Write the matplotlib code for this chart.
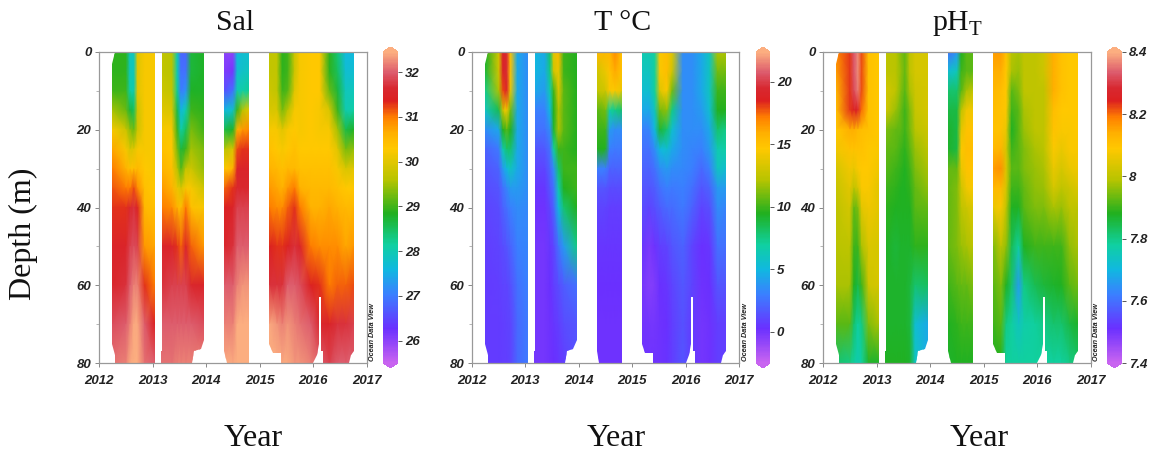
import numpy as np
import matplotlib
matplotlib.use('Agg')
import matplotlib.pyplot as plt
from matplotlib.colors import LinearSegmentedColormap, Normalize
from matplotlib.path import Path

W, H = 1149, 454
plt.rcParams['font.family'] = ['Liberation Sans', 'DejaVu Sans']
plt.rcParams['mathtext.fontset'] = 'custom'
plt.rcParams['mathtext.rm'] = 'Liberation Serif'

# depth levels and cast times for each block of data
depth = [0, 5, 10, 15, 20, 25, 30, 35, 40, 50, 60, 70, 80]
times1 = [2012.25, 2012.50, 2012.58, 2012.65, 2012.72, 2012.85, 2013.04]
times2 = [2013.16, 2013.36, 2013.46, 2013.53, 2013.62, 2013.72, 2013.96]
times3 = [2014.34, 2014.50, 2014.58, 2014.68, 2014.80]
times4 = [2015.18, 2015.32, 2015.42, 2015.52, 2015.65, 2015.75, 2015.95, 2016.12, 2016.30, 2016.45, 2016.60, 2016.75]
all_times = [times1, times2, times3, times4]

# salinity, one row per cast
sal1 = [[28.9, 28.9, 29, 29.5, 30.2, 30.7, 31, 31.15, 31.3, 31.5, 31.6, 31.9, 32.1],
        [28.9, 28.9, 29, 29.2, 29.8, 30.2, 30.6, 31, 31.3, 31.5, 31.7, 32, 32.2],
        [27.9, 27.9, 28.1, 28.7, 29.4, 29.9, 30.4, 31, 31.6, 31.8, 32, 32.2, 32.4],
        [27.9, 27.9, 28, 28.5, 29.2, 30, 30.4, 31.2, 31.7, 31.9, 32.2, 32.4, 32.6],
        [30, 30, 30, 29.8, 29.8, 30.2, 30.5, 30.9, 31.4, 31.8, 32.2, 32.4, 32.6],
        [30.2, 30.2, 30.2, 30.2, 30.2, 30.2, 30.3, 30.4, 30.5, 30.8, 31.3, 32, 32.1],
        [30.2, 30.2, 30.2, 30.2, 30.2, 30.2, 30.2, 30.3, 30.4, 30.7, 31, 31.4, 32]]
sal2 = [[29.7, 29.7, 29.8, 30, 30.2, 30.4, 30.6, 30.8, 31, 31.5, 31.7, 32, 32.1],
        [29.6, 29.6, 29.7, 29.9, 30.2, 30.3, 30.4, 30.6, 30.9, 31.5, 31.8, 32, 32.1],
        [28, 28, 28.2, 28.6, 29, 29.3, 29.6, 30.1, 30.6, 31.3, 31.8, 32, 32.2],
        [26.8, 26.9, 27, 27.6, 28.1, 28.7, 29.1, 29.9, 30.4, 31.1, 31.8, 32, 32.2],
        [26.8, 26.9, 27.2, 28, 28.5, 29, 29.7, 30.2, 31, 31.5, 31.8, 32, 32.2],
        [28.7, 28.7, 28.8, 29, 29.3, 29.5, 29.8, 30.2, 30.4, 31.1, 31.6, 32, 32.2],
        [28.8, 28.8, 28.8, 28.9, 29, 29.3, 29.4, 29.8, 30.2, 30.8, 31.5, 31.9, 32.2]]
sal3 = [[26, 26.1, 26.6, 27.6, 28.6, 29.6, 30.3, 31.1, 31.4, 31.6, 32, 32.2, 32.4],
        [26, 26.2, 26.9, 27.8, 28.8, 29.9, 30.6, 31.3, 31.5, 31.7, 32, 32.2, 32.4],
        [27.6, 27.7, 28, 29, 30.6, 31.2, 31.5, 31.6, 31.8, 32, 32.2, 32.5, 32.6],
        [27.7, 27.8, 28.1, 29.6, 30.8, 31.3, 31.5, 31.6, 31.8, 32, 32.3, 32.6, 32.6],
        [27.7, 27.9, 28.2, 30, 30.9, 31.3, 31.5, 31.6, 31.8, 32, 32.3, 32.6, 32.6]]
sal4 = [[29.7, 29.7, 29.8, 29.9, 30.2, 30.4, 30.6, 30.8, 31, 31.4, 31.7, 32.4, 32.6],
        [29.7, 29.7, 29.7, 29.9, 30.2, 30.3, 30.5, 30.7, 30.9, 31.3, 31.7, 32.3, 32.6],
        [28.9, 28.9, 29, 29.3, 30, 30.2, 30.4, 30.6, 30.9, 31.3, 31.7, 32.2, 32.4],
        [29, 29, 29.1, 29.6, 30.2, 30.3, 30.5, 30.8, 31.1, 31.4, 32, 32.3, 32.4],
        [29.8, 29.8, 30, 30.2, 30.3, 30.4, 30.5, 31, 31.3, 31.7, 32, 32.2, 32.3],
        [30.2, 30.2, 30.2, 30.2, 30.2, 30.3, 30.4, 30.6, 31, 31.5, 31.9, 32.1, 32.3],
        [30.3, 30.3, 30.3, 30.3, 30.3, 30.3, 30.4, 30.5, 30.6, 31, 31.4, 32, 32.2],
        [30.3, 30.3, 30.3, 30.2, 30.2, 30.3, 30.4, 30.5, 30.6, 30.9, 31.3, 31.6, 32],
        [28.9, 28.9, 29.2, 29.9, 30.2, 30.3, 30.4, 30.5, 30.7, 30.9, 31, 31.5, 31.8],
        [28.4, 28.5, 28.7, 29, 29.5, 30, 30.2, 30.4, 30.6, 30.9, 31.1, 31.7, 32],
        [27.6, 27.7, 27.9, 28, 28.6, 29.3, 29.9, 30.3, 30.5, 30.7, 31.1, 31.7, 32],
        [27.6, 27.7, 27.9, 28.1, 28.8, 29.4, 30, 30.3, 30.5, 30.8, 31.2, 31.8, 32]]

# temperature
temp1 = [[9.5, 9, 7.5, 6, 3.5, 2, 1.5, 1.2, 1, 0.8, 0.7, 0.7, 0.7],
         [13, 13, 12, 8.5, 4.5, 2.8, 2, 1.5, 1.2, 1, 0.8, 0.7, 0.7],
         [19, 19, 18, 13, 9.5, 6.5, 4, 2.5, 2, 1.2, 1, 0.8, 0.8],
         [19.5, 19.5, 19, 14.5, 10.5, 8, 5, 3.2, 2.5, 1.5, 1, 0.9, 0.8],
         [15, 15, 14, 11, 9.5, 8, 6, 4, 3, 2, 1.3, 1, 1],
         [4.5, 4.5, 4.5, 4.5, 4.5, 4.5, 4.5, 4, 3.5, 3, 2.5, 2.2, 2.2],
         [3.5, 3.5, 3.5, 3.5, 3.5, 3.5, 3.5, 3.5, 3.3, 3.2, 3, 2.8, 2.8]]
temp2 = [[5, 5, 4.5, 3, 2.5, 1.5, 1, 0.5, 0.2, 0, 0, 0, 0],
         [4.5, 4.5, 4, 3, 2.5, 1.6, 1, 0.5, 0.2, 0, 0, 0, 0],
         [8, 7.5, 6.5, 5, 3.5, 2.5, 2, 1.5, 1, 0.5, 0.3, 0.2, 0.2],
         [13.5, 13, 10, 9.5, 9, 7, 3.5, 2.5, 2, 1, 0.8, 0.5, 0.3],
         [15.5, 14, 13.5, 12, 12, 10, 8, 6.5, 5, 2.5, 1.2, 0.8, 0.5],
         [10, 10, 10.5, 10.5, 10.5, 10, 10, 9.5, 8, 4, 1.8, 1.2, 0.8],
         [9.5, 9.5, 9.5, 9.5, 9.5, 9.5, 10, 10, 9.5, 7.5, 2.5, 1.5, 1.5]]
temp3 = [[15.5, 13, 12.5, 10.5, 10, 9.5, 3, 1.5, 1, 0.5, 0.3, 0.2, 0.2],
         [15.5, 14, 13, 11, 10, 9.5, 3, 1.5, 1, 0.5, 0.3, 0.2, 0.2],
         [15.5, 15, 14.5, 7, 4, 3, 2, 1.2, 0.8, 0.5, 0.3, 0.2, 0.2],
         [16.8, 16, 14.5, 7.5, 3.5, 2.8, 2, 1.2, 0.8, 0.5, 0.3, 0.2, 0.2],
         [15, 15, 14, 8, 3.5, 2.8, 2, 1.2, 0.8, 0.5, 0.3, 0.2, 0.2]]
temp4 = [[6.5, 6, 5.5, 4.5, 3, 2.5, 2, 1.5, 1.2, 0.5, 0, 0.1, 0.2],
         [6.5, 6, 5.5, 4.5, 3.2, 2.5, 2, 1.5, 1, -0.2, -0.5, 0, 0.2],
         [7, 7, 7, 6, 5, 3.5, 2.5, 1.8, 1.3, 0.2, -0.3, 0, 0.2],
         [14.5, 14.5, 13.5, 11, 9, 5, 3.5, 2.5, 1.8, 0.8, 0.3, 0.2, 0.2],
         [15.2, 15.2, 14.5, 11.5, 8, 5.5, 4, 3, 2.3, 1, 0.5, 0.3, 0.4],
         [13.5, 13, 11, 7.5, 5.5, 4.5, 3.5, 2.8, 2.3, 1.5, 1, 0.8, 0.8],
         [3.5, 3.5, 3.5, 3.5, 3.5, 3.5, 3.3, 3, 2.8, 2, 1.6, 1.4, 1.5],
         [3.5, 3.5, 3.5, 3.5, 3.5, 3.2, 3, 2.5, 2, 1, 1, 0.7, 0.7],
         [4.5, 4.5, 4.5, 4, 3.5, 3, 2.2, 1.5, 1, 0.3, 0.2, 0, 0],
         [6, 6, 6, 5.5, 4.5, 4, 3, 2, 1.3, 0.5, 0.3, 0.2, 0.2],
         [12, 11, 10, 9.5, 8, 6.5, 6, 4, 3.5, 2.5, 1.5, 0.8, 0.8],
         [12, 11, 10, 9.5, 7.5, 6.8, 5.5, 4, 3.2, 2.5, 1.5, 0.8, 0.8]]

# pH
ph1 = [[8.18, 8.16, 8.13, 8.11, 8.09, 8.07, 8.03, 8.01, 8, 7.99, 7.98, 7.92, 7.82],
       [8.23, 8.23, 8.23, 8.23, 8.14, 8.1, 8.07, 8.05, 8.03, 8, 7.98, 7.92, 7.8],
       [8.33, 8.33, 8.32, 8.25, 8.14, 8.1, 8.06, 8, 7.93, 7.9, 7.88, 7.82, 7.78],
       [8.37, 8.37, 8.36, 8.26, 8.12, 8.1, 8.08, 8.03, 7.95, 7.9, 7.85, 7.78, 7.76],
       [8.22, 8.22, 8.22, 8.2, 8.11, 8.1, 8.09, 8.08, 8.05, 7.98, 7.9, 7.8, 7.78],
       [8.1, 8.1, 8.1, 8.1, 8.1, 8.09, 8.09, 8.08, 8.07, 8.04, 8.02, 7.95, 7.87],
       [8.09, 8.09, 8.09, 8.09, 8.09, 8.08, 8.07, 8.05, 8.05, 8.03, 8.03, 7.98, 7.87]]
ph2 = [[8, 8, 8.03, 8.03, 7.95, 7.93, 7.92, 7.9, 7.89, 7.88, 7.87, 7.87, 7.88],
       [7.99, 7.99, 8, 7.97, 7.93, 7.92, 7.9, 7.89, 7.88, 7.86, 7.87, 7.87, 7.88],
       [7.95, 7.96, 7.95, 7.93, 7.92, 7.9, 7.89, 7.88, 7.88, 7.87, 7.87, 7.87, 7.88],
       [7.93, 7.93, 7.92, 7.9, 7.9, 7.89, 7.88, 7.88, 7.88, 7.87, 7.87, 7.87, 7.88],
       [8, 8, 7.98, 7.95, 7.94, 7.92, 7.9, 7.89, 7.88, 7.87, 7.86, 7.86, 7.87],
       [8.03, 8.03, 8.02, 8.01, 7.99, 7.97, 7.95, 7.93, 7.92, 7.89, 7.82, 7.72, 7.74],
       [8.03, 8.03, 8.03, 8.03, 8.02, 8, 7.98, 7.96, 7.93, 7.89, 7.83, 7.68, 7.68]]
ph3 = [[7.6, 7.72, 7.82, 7.85, 7.87, 7.87, 7.93, 7.93, 7.93, 7.93, 7.9, 7.88, 7.87],
       [7.65, 7.75, 7.82, 7.85, 7.85, 7.85, 7.93, 7.95, 7.95, 7.95, 7.92, 7.89, 7.88],
       [7.88, 7.9, 7.92, 8, 8.05, 8.08, 8.06, 8.02, 8, 7.97, 7.93, 7.9, 7.88],
       [7.92, 7.92, 7.98, 8.07, 8.1, 8.11, 8.1, 8.07, 8.02, 7.98, 7.93, 7.9, 7.88],
       [7.92, 7.92, 8, 8.07, 8.1, 8.11, 8.1, 8.08, 8.04, 8, 7.95, 7.9, 7.88]]
ph4 = [[8.16, 8.14, 8.12, 8.11, 8.1, 8.12, 8.16, 8.12, 8.06, 7.95, 7.92, 7.9, 7.88],
       [8.16, 8.14, 8.11, 8.1, 8.1, 8.13, 8.17, 8.12, 8.08, 8, 7.95, 7.92, 7.88],
       [8.1, 8.09, 8.09, 8.08, 8.06, 8.03, 8.04, 8.03, 8, 7.96, 7.88, 7.8, 7.78],
       [7.99, 7.98, 7.92, 7.9, 7.88, 7.9, 7.92, 7.9, 7.88, 7.84, 7.82, 7.78, 7.78],
       [7.98, 7.97, 7.95, 7.92, 7.92, 7.92, 7.92, 7.9, 7.88, 7.78, 7.66, 7.74, 7.78],
       [8, 8, 8, 7.98, 7.97, 7.95, 7.95, 7.93, 7.92, 7.88, 7.8, 7.77, 7.78],
       [8, 8, 8, 8, 8, 7.98, 7.97, 7.96, 7.95, 7.9, 7.84, 7.78, 7.78],
       [8.02, 8.02, 8, 8, 8, 7.99, 7.98, 7.97, 7.95, 7.9, 7.86, 7.8, 7.78],
       [8.14, 8.14, 8.14, 8.11, 8.1, 8.08, 8.06, 8.03, 7.98, 7.9, 7.87, 7.82, 7.78],
       [8.1, 8.1, 8.1, 8.09, 8.08, 8.06, 8.03, 8, 7.97, 7.9, 7.88, 7.82, 7.78],
       [8.09, 8.09, 8.09, 8.09, 8.08, 8.08, 8.06, 8.02, 8, 7.96, 7.92, 7.85, 7.8],
       [8.09, 8.09, 8.09, 8.09, 8.09, 8.08, 8.07, 8.04, 8, 7.98, 7.94, 7.87, 7.82]]

sal_blocks = [sal1, sal2, sal3, sal4]
temp_blocks = [temp1, temp2, temp3, temp4]
ph_blocks = [ph1, ph2, ph3, ph4]

# sampled outline of each block (year, depth), same in all three panels
outline1 = [(2012.30, 0), (2012.25, 3), (2012.25, 75), (2012.30, 78), (2012.30, 80), (2013.04, 80), (2013.04, 0)]
outline2 = [(2013.18, 0), (2013.18, 77), (2013.16, 77), (2013.16, 80), (2013.74, 80), (2013.77, 77),
            (2013.90, 76.5), (2013.96, 74), (2013.96, 0)]
outline3 = [(2014.34, 0), (2014.34, 77), (2014.38, 80), (2014.80, 80), (2014.80, 0)]
outline4 = [(2015.18, 0), (2015.18, 75), (2015.24, 77.5), (2015.39, 77.5), (2015.39, 80), (2016.0, 80),
            (2016.06, 78), (2016.10, 75), (2016.10, 63), (2016.14, 63), (2016.14, 77), (2016.17, 77),
            (2016.17, 80), (2016.67, 80), (2016.70, 78), (2016.75, 77), (2016.75, 0)]
outlines = [outline1, outline2, outline3, outline4]

year_ticks = [2012, 2013, 2014, 2015, 2016, 2017]
depth_ticks = [0, 20, 40, 60, 80]
depth_minor = [10, 30, 50, 70]

# ODV style colours, bottom to top
odv = LinearSegmentedColormap.from_list('odv', [
    (0.00, '#c864f0'), (0.11, '#6a30ff'), (0.22, '#3a80ff'), (0.30, '#10b8e0'),
    (0.38, '#10d0a0'), (0.48, '#20b020'), (0.59, '#b8c400'), (0.69, '#ffc800'),
    (0.74, '#ffb000'), (0.79, '#ff8000'), (0.845, '#dc2020'), (0.885, '#d82830'),
    (0.935, '#dc5a6c'), (1.00, '#fcae80')])
odv.set_under('#c864f0')
odv.set_over('#fcae80')


def px_axes(x0, x1, y0, y1):
    return fig.add_axes([x0 / W, 1 - y1 / H, (x1 - x0) / W, (y1 - y0) / H])


def panel(x0, x1, cx0, cx1, blocks, vmin, vmax, cticks, clabels):
    ax = px_axes(x0, x1, 52, 363)
    norm = Normalize(vmin, vmax)
    for times, block, outline in zip(all_times, blocks, outlines):
        mesh = ax.pcolormesh(times, depth, np.array(block).T, cmap=odv, norm=norm, shading='gouraud')
        mesh.set_clip_path(Path(outline + [outline[0]]), ax.transData)
    ax.set_xlim(2012, 2017)
    ax.set_ylim(80, 0)
    ax.set_xticks(year_ticks)
    ax.set_yticks(depth_ticks)
    ax.set_yticks(depth_minor, minor=True)
    ax.tick_params(axis='x', which='major', length=3, width=0.7, color='#888888', pad=6)
    ax.tick_params(axis='y', which='major', length=3, width=0.7, color='#888888', pad=2.5)
    ax.tick_params(axis='y', which='minor', length=2, width=0.6, color='#aaaaaa')
    for lab in ax.get_xticklabels() + ax.get_yticklabels():
        lab.set_fontsize(9.5)
        lab.set_fontweight('bold')
        lab.set_fontstyle('italic')
        lab.set_color('#222222')
    for sp in ax.spines.values():
        sp.set_color('#999999')
        sp.set_linewidth(0.9)

    # the extension caps take their room out of this axes
    cax = px_axes(cx0, cx1, 47, 368)
    cb = fig.colorbar(plt.cm.ScalarMappable(norm=norm, cmap=odv), cax=cax, extend='both',
                      extendfrac=0.016, ticks=cticks)
    cb.outline.set_visible(False)
    cb.ax.set_yticklabels(clabels, fontsize=9.5, fontweight='bold', fontstyle='italic', color='#222222')
    cb.ax.tick_params(length=3, width=0.7, color='#555555', pad=2)
    fig.text((cx0 - 10) / W, 1 - 332 / H, 'Ocean Data View', rotation=90, fontsize=5.2,
             fontweight='bold', fontstyle='italic', color='#222222', ha='center', va='center')


fig = plt.figure(figsize=(W / 100, H / 100), dpi=100)

panel(99, 367, 383, 398, sal_blocks, 25.5, 32.45, [26, 27, 28, 29, 30, 31, 32],
      ['26', '27', '28', '29', '30', '31', '32'])
panel(472, 739, 756, 770, temp_blocks, -2.5, 22.4, [0, 5, 10, 15, 20],
      ['0', '5', '10', '15', '20'])
panel(823, 1091, 1107, 1122, ph_blocks, 7.4, 8.4, [7.4, 7.6, 7.8, 8, 8.2, 8.4],
      ['7.4', '7.6', '7.8', '8', '8.2', '8.4'])

serif = ['Liberation Serif', 'DejaVu Serif']
for xt, label in zip([235, 623, 958], ['Sal', 'T °C', r'pH$_{\mathrm{T}}$']):
    fig.text(xt / W, 1 - 23 / H, label, fontsize=21.5, family=serif, ha='center', va='center', color='#111111')
for xt in [253, 616, 979]:
    fig.text(xt / W, 1 - 438 / H, 'Year', fontsize=23, family=serif, ha='center', va='center', color='#111111')
fig.text(23 / W, 1 - 234 / H, 'Depth (m)', fontsize=23, family=serif, rotation=90,
         ha='center', va='center', color='#111111')

fig.savefig('out.png', dpi=100)
